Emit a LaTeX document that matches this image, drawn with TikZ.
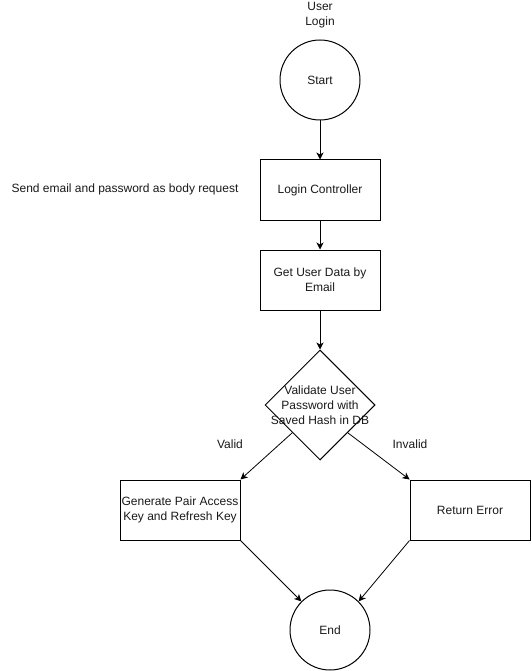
\documentclass[tikz,border=0pt]{standalone}
\usepackage{fontspec}
\setmainfont{Liberation Sans}
\usetikzlibrary{arrows.meta,shapes.geometric,calc}
\begin{document}
\begin{tikzpicture}[x=1pt,y=-1pt,
  every node/.style={font=\fontsize{12}{15}\selectfont, text=black!90},
  stepbox/.style={draw, line width=1pt, minimum width=120pt, minimum height=60pt, inner sep=0pt, align=center},
  terminal/.style={draw, circle, line width=1pt, minimum size=80pt, inner sep=0pt},
  decision/.style={draw, diamond, line width=1pt, minimum width=110pt, minimum height=110pt, inner sep=0pt},
  flow/.style={line width=0.8pt, -{Stealth[length=7pt,width=7pt,inset=2pt]}},
  plain/.style={align=center, inner sep=0pt}]
\useasboundingbox (0,0) rectangle (531,671);

% heading above the start node
\node[plain] (title) at (320,15) {User\\Login};

% main flow
\node[terminal] (start) at (320,80) {Start};
\node[stepbox] (ctrl) at (320,190) {Login Controller};
\node[plain] (note) at (125,189) {Send email and password as body request};
\node[stepbox] (fetch) at (320,280) {Get User Data by\\Email};
\node[decision] (check) at (320,405) {};
\node[plain] (checktext) at (320,405) {Validate User\\Password with\\Saved Hash in DB};

% outcomes
\node[stepbox] (keys) at (180,510) {Generate Pair Access\\Key and Refresh Key};
\node[stepbox] (err) at (470,510) {Return Error};
\node[terminal] (finish) at (330,630) {End};

\node[plain] (validlbl) at (230,444) {Valid};
\node[plain] (invalidlbl) at (410,444) {Invalid};

% connectors
\coordinate (checkL) at ($(check.west)!0.5!(check.south)$);
\coordinate (checkR) at ($(check.east)!0.5!(check.south)$);
\draw[flow] (start) -- (ctrl);
\draw[flow] (ctrl) -- (fetch);
\draw[flow] (fetch) -- (check.north);
\draw[flow] (checkL) -- (keys.north east);
\draw[flow] (checkR) -- (err.north west);
\draw[flow] (keys.south east) -- (finish.north west);
\draw[flow] (err.south west) -- (finish.north east);
\end{tikzpicture}
\end{document}
